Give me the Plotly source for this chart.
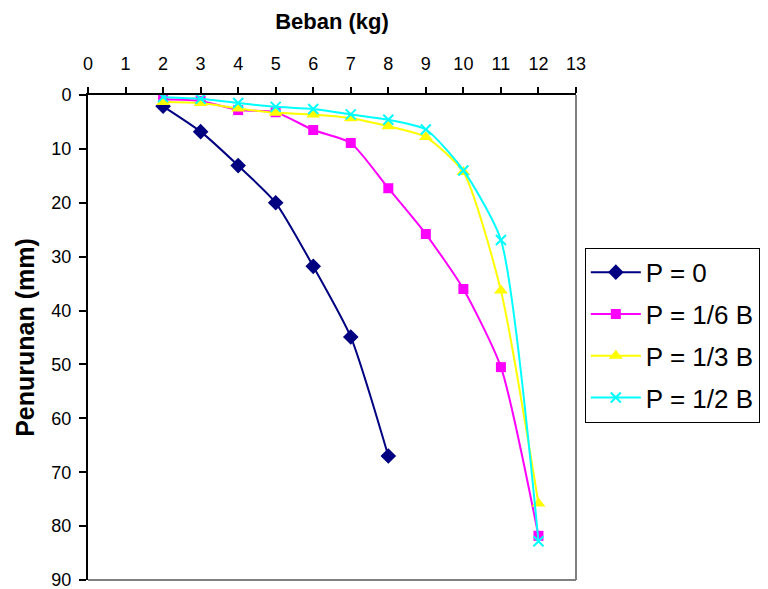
import plotly.graph_objects as go

beban = [2, 3, 4, 5, 6, 7, 8, 9, 10, 11, 12]
p0_x = [2, 3, 4, 5, 6, 7, 8]
p0_y = [2.1, 6.8, 13.1, 20.0, 31.8, 44.9, 67.0]
p16_y = [0.8, 1.1, 2.8, 3.2, 6.5, 8.9, 17.3, 25.8, 36.0, 50.5, 81.8]
p13_y = [1.3, 1.5, 2.5, 3.3, 3.6, 4.3, 5.8, 7.8, 14.3, 36.3, 75.8]
p12_y = [0.4, 0.7, 1.5, 2.2, 2.6, 3.6, 4.6, 6.4, 14.0, 26.9, 82.8]

names = ["P = 0", "P = 1/6 B", "P = 1/3 B", "P = 1/2 B"]

fig = go.Figure()
fig.add_trace(go.Scatter(x=p0_x, y=p0_y, name=names[0], mode="lines+markers",
                         line=dict(color="#000080", width=2, shape="spline", smoothing=0.6),
                         marker=dict(symbol="diamond", size=12, color="#000080"),
                         legendgroup="a"))
fig.add_trace(go.Scatter(x=beban, y=p16_y, name=names[1], mode="lines+markers",
                         line=dict(color="#FF00FF", width=2, shape="spline", smoothing=0.6),
                         marker=dict(symbol="square", size=10, color="#FF00FF"),
                         legendgroup="b"))
fig.add_trace(go.Scatter(x=beban, y=p13_y, name=names[2], mode="lines+markers",
                         line=dict(color="#FFFF00", width=2, shape="spline", smoothing=0.6),
                         marker=dict(symbol="triangle-up", size=12, color="#FFFF00"),
                         legendgroup="c"))
fig.add_trace(go.Scatter(x=beban, y=p12_y, name=names[3], mode="lines+markers",
                         line=dict(color="#00FFFF", width=2, shape="spline", smoothing=0.6),
                         marker=dict(symbol="x-thin", size=10, color="#00FFFF",
                                     line=dict(color="#00FFFF", width=2)),
                         legendgroup="d"))

fig.add_shape(type="line", xref="paper", yref="paper", x0=1, x1=1, y0=0, y1=1,
              line=dict(color="#808080", width=2))
fig.add_shape(type="line", xref="paper", yref="paper", x0=0, x1=1, y0=0, y1=0,
              line=dict(color="#808080", width=2))

fig.update_layout(
    width=768, height=589,
    margin=dict(l=88, r=191, t=95, b=9),
    paper_bgcolor="white", plot_bgcolor="white",
    font=dict(family="Liberation Sans, Arial, sans-serif", color="black", size=18),
    xaxis=dict(side="top", range=[0, 13], dtick=1, tick0=0, showgrid=False, zeroline=False,
               showline=True, linecolor="black", linewidth=2, ticks="outside",
               ticklen=6, tickcolor="black", tickwidth=1.5, ticklabelstandoff=10,
               tickfont=dict(size=18), automargin=False,
               title=dict(text="<b>Beban (kg)</b>", font=dict(size=22), standoff=18)),
    yaxis=dict(range=[90, 0], dtick=10, tick0=0, showgrid=False, zeroline=False,
               showline=True, linecolor="black", linewidth=2, ticks="outside",
               ticklen=7, tickcolor="black", tickwidth=1.5, ticklabelstandoff=4,
               tickfont=dict(size=18), ticklabeloverflow="allow", automargin=False,
               title=dict(text="<b>Penurunan (mm)</b>", font=dict(size=25), standoff=10)),
    legend=dict(x=1.016, y=0.685, xanchor="left", yanchor="top",
                bordercolor="black", borderwidth=1, bgcolor="white",
                font=dict(size=26), itemwidth=50, tracegroupgap=5),
)

fig.write_html("out.html")
